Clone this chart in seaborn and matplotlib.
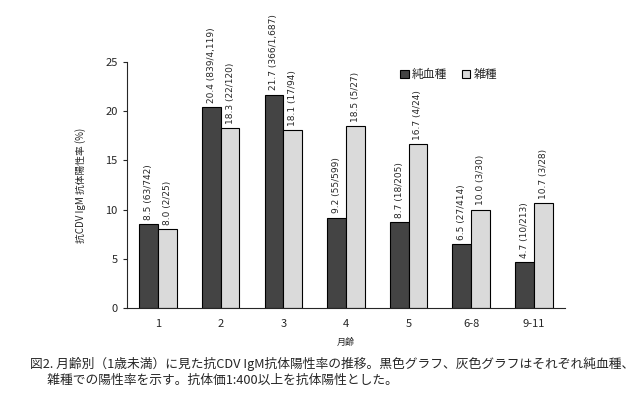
import pandas as pd
import matplotlib.pyplot as plt
import seaborn as sns

# data
ages = ["1", "2", "3", "4", "5", "6-8", "9-11"]
pure_rate = [8.5, 20.4, 21.7, 9.2, 8.7, 6.5, 4.7]
pure_counts = ["63/742", "839/4,119", "366/1,687", "55/599", "18/205", "27/414", "10/213"]
mixed_rate = [8.0, 18.3, 18.1, 18.5, 16.7, 10.0, 10.7]
mixed_counts = ["2/25", "22/120", "17/94", "5/27", "4/24", "3/30", "3/28"]
groups = ["純血種", "雑種"]

df = pd.DataFrame({
    "age": ages * 2,
    "rate": pure_rate + mixed_rate,
    "group": [groups[0]] * len(ages) + [groups[1]] * len(ages),
})

sns.set_style("ticks")
plt.rcParams['font.family'] = ['Noto Sans CJK JP', 'DejaVu Sans']

fig = plt.figure(figsize=(6.4, 3.98), dpi=100)
ax = fig.add_axes([0.198, 0.226, 0.685, 0.618])

sns.barplot(data=df, x="age", y="rate", hue="group", order=ages, hue_order=groups,
            palette=["#444444", "#dadada"], edgecolor="black", linewidth=0.8,
            width=0.6, ax=ax)

labels = [
    [f"{r:.1f} ({c})" for r, c in zip(pure_rate, pure_counts)],
    [f"{r:.1f} ({c})" for r, c in zip(mixed_rate, mixed_counts)],
]
for cont, lab in zip(ax.containers, labels):
    ax.bar_label(cont, labels=lab, rotation=90, padding=3, fontsize=6.5,
                 family="DejaVu Sans")

ax.set_ylim(0, 25)
ax.set_yticks([0, 5, 10, 15, 20, 25])
ax.tick_params(axis="both", labelsize=8, length=3)
ax.tick_params(axis="x", length=0, pad=8)
ax.set_xlabel("月齢", fontsize=6.5, labelpad=6)
ax.set_ylabel("抗CDV IgM 抗体陽性率 (%)", fontsize=7, labelpad=14)
sns.despine(ax=ax)

ax.legend(loc="upper left", bbox_to_anchor=(0.6, 1.02), ncol=2, frameon=False,
          fontsize=8.5, handlelength=0.7, handleheight=0.7, handletextpad=0.3,
          columnspacing=1.2)

fig.text(0.047, 0.065,
         "図2. 月齢別（1歳未満）に見た抗CDV IgM抗体陽性率の推移。黒色グラフ、灰色グラフはそれぞれ純血種、\n"
         "      雑種での陽性率を示す。抗体価1:400以上を抗体陽性とした。",
         fontsize=9.2, linespacing=1.3, va="center")

fig.savefig("out.png", dpi=100)
